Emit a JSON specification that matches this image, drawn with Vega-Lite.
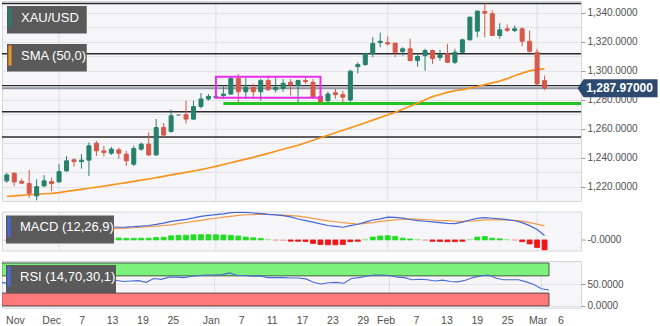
{
  "$schema": "https://vega.github.io/schema/vega-lite/v6.json",
  "padding": 0,
  "background": "#ffffff",
  "spacing": 8.5,
  "config": {
    "font": "Liberation Sans",
    "view": {"fill": "#f6f6f8", "stroke": "#d3d6dd", "strokeWidth": 1},
    "axis": {"labelFont": "Liberation Sans", "labelFontSize": 10, "labelColor": "#505050", "domain": false, "tickColor": "#9a9a9a", "tickSize": 4, "labelPadding": 2, "gridColor": "#e2e3e8", "gridWidth": 1, "labelOverlap": false},
    "legend": {"orient": "top-left", "offset": 5, "padding": 0, "fillColor": "#5a5a5a", "labelColor": "#ffffff", "labelFont": "Liberation Sans", "labelFontSize": 13, "symbolType": "M-0.85,-1L-0.85,1", "symbolSize": 400, "symbolStrokeWidth": 3, "labelOffset": -9, "rowPadding": 5}
  },
  "datasets": {
    "days": [
      {"d":"2018-11-22","i":-7,"o":1224.0,"h":1229.5,"l":1222.6,"c":1228.1,"sma":1213.2,"macd":2.3,"sig":2.8,"hist":-0.3,"rsi":55},
      {"d":"2018-11-23","i":-6,"o":1229.3,"h":1229.8,"l":1220.5,"c":1223.3,"sma":1213.6,"macd":2.3,"sig":2.7,"hist":-0.3,"rsi":52},
      {"d":"2018-11-26","i":-5,"o":1223.7,"h":1225.5,"l":1221.7,"c":1222.4,"sma":1214.0,"macd":2.2,"sig":2.6,"hist":-0.3,"rsi":50},
      {"d":"2018-11-27","i":-4,"o":1222.1,"h":1231.5,"l":1212.4,"c":1215.4,"sma":1214.4,"macd":2.2,"sig":2.4,"hist":-0.3,"rsi":45},
      {"d":"2018-11-28","i":-3,"o":1213.6,"h":1225.1,"l":1210.6,"c":1220.0,"sma":1214.7,"macd":2.2,"sig":2.3,"hist":-0.3,"rsi":50},
      {"d":"2018-11-29","i":-2,"o":1220.5,"h":1227.9,"l":1219.8,"c":1224.0,"sma":1215.1,"macd":2.2,"sig":2.2,"hist":-0.2,"rsi":53},
      {"d":"2018-11-30","i":-1,"o":1223.5,"h":1226.2,"l":1217.0,"c":1222.1,"sma":1215.4,"macd":2.3,"sig":2.0,"hist":-0.1,"rsi":52},
      {"d":"2018-12-03","i":0,"o":1223.3,"h":1235.5,"l":1222.6,"c":1230.4,"sma":1215.9,"macd":2.6,"sig":2.1,"hist":0.5,"rsi":57},
      {"d":"2018-12-04","i":1,"o":1230.9,"h":1241.2,"l":1230.2,"c":1237.8,"sma":1216.7,"macd":3.5,"sig":2.7,"hist":1.0,"rsi":62},
      {"d":"2018-12-05","i":2,"o":1238.5,"h":1239.4,"l":1233.8,"c":1237.3,"sma":1217.4,"macd":4.5,"sig":3.2,"hist":1.4,"rsi":61},
      {"d":"2018-12-06","i":3,"o":1237.3,"h":1242.4,"l":1232.5,"c":1238.3,"sma":1218.1,"macd":5.4,"sig":4.0,"hist":1.8,"rsi":61},
      {"d":"2018-12-07","i":4,"o":1238.3,"h":1250.5,"l":1227.4,"c":1248.2,"sma":1218.9,"macd":6.1,"sig":4.7,"hist":2.6,"rsi":66},
      {"d":"2018-12-10","i":5,"o":1250.0,"h":1251.6,"l":1241.2,"c":1244.7,"sma":1219.6,"macd":6.8,"sig":5.3,"hist":2.8,"rsi":62},
      {"d":"2018-12-11","i":6,"o":1244.7,"h":1248.2,"l":1240.8,"c":1243.5,"sma":1220.3,"macd":7.5,"sig":6.0,"hist":2.4,"rsi":61},
      {"d":"2018-12-12","i":7,"o":1243.1,"h":1247.5,"l":1241.9,"c":1245.9,"sma":1221.2,"macd":7.4,"sig":6.3,"hist":1.5,"rsi":62},
      {"d":"2018-12-13","i":8,"o":1245.4,"h":1247.0,"l":1239.4,"c":1243.1,"sma":1222.0,"macd":7.2,"sig":6.5,"hist":1.1,"rsi":60},
      {"d":"2018-12-14","i":9,"o":1242.4,"h":1244.7,"l":1234.3,"c":1237.8,"sma":1222.8,"macd":7.3,"sig":6.7,"hist":0.9,"rsi":57},
      {"d":"2018-12-17","i":10,"o":1235.5,"h":1248.2,"l":1234.3,"c":1246.3,"sma":1223.7,"macd":7.5,"sig":6.9,"hist":0.9,"rsi":58},
      {"d":"2018-12-18","i":11,"o":1245.9,"h":1250.5,"l":1244.7,"c":1249.3,"sma":1224.5,"macd":7.8,"sig":7.2,"hist":1.0,"rsi":59},
      {"d":"2018-12-19","i":12,"o":1249.3,"h":1257.4,"l":1241.2,"c":1241.9,"sma":1225.3,"macd":8.2,"sig":7.5,"hist":1.0,"rsi":55},
      {"d":"2018-12-20","i":13,"o":1241.9,"h":1266.6,"l":1241.2,"c":1260.8,"sma":1226.2,"macd":8.8,"sig":7.8,"hist":1.3,"rsi":64},
      {"d":"2018-12-21","i":14,"o":1260.8,"h":1263.9,"l":1253.9,"c":1255.6,"sma":1227.1,"macd":9.5,"sig":8.2,"hist":1.5,"rsi":62},
      {"d":"2018-12-24","i":15,"o":1258.1,"h":1273.1,"l":1257.2,"c":1268.9,"sma":1228.1,"macd":10.5,"sig":8.5,"hist":2.3,"rsi":67},
      {"d":"2018-12-25","i":16,"o":1269.4,"h":1269.9,"l":1268.9,"c":1269.4,"sma":1229.0,"macd":11.1,"sig":9.2,"hist":2.6,"rsi":67},
      {"d":"2018-12-26","i":17,"o":1269.6,"h":1279.3,"l":1263.6,"c":1266.6,"sma":1229.9,"macd":11.7,"sig":9.9,"hist":2.7,"rsi":66},
      {"d":"2018-12-27","i":18,"o":1266.6,"h":1279.3,"l":1266.2,"c":1275.2,"sma":1230.8,"macd":12.5,"sig":10.5,"hist":2.9,"rsi":69},
      {"d":"2018-12-28","i":19,"o":1275.4,"h":1284.6,"l":1274.0,"c":1280.5,"sma":1231.8,"macd":13.4,"sig":11.1,"hist":3.0,"rsi":71},
      {"d":"2018-12-31","i":20,"o":1280.5,"h":1283.9,"l":1279.3,"c":1282.3,"sma":1232.9,"macd":13.9,"sig":11.8,"hist":3.0,"rsi":72},
      {"d":"2019-01-01","i":21,"o":1281.4,"h":1283.5,"l":1280.7,"c":1282.1,"sma":1234.0,"macd":14.4,"sig":12.3,"hist":2.9,"rsi":72},
      {"d":"2019-01-02","i":22,"o":1282.8,"h":1289.2,"l":1280.5,"c":1283.9,"sma":1235.3,"macd":14.8,"sig":12.9,"hist":2.8,"rsi":73},
      {"d":"2019-01-03","i":23,"o":1283.9,"h":1295.9,"l":1283.5,"c":1294.7,"sma":1236.5,"macd":15.5,"sig":13.4,"hist":2.6,"rsi":77},
      {"d":"2019-01-04","i":24,"o":1294.7,"h":1297.8,"l":1278.1,"c":1285.5,"sma":1237.8,"macd":15.7,"sig":13.9,"hist":2.2,"rsi":71},
      {"d":"2019-01-07","i":25,"o":1285.5,"h":1295.4,"l":1280.5,"c":1288.5,"sma":1239.0,"macd":15.6,"sig":14.3,"hist":1.6,"rsi":71},
      {"d":"2019-01-08","i":26,"o":1288.5,"h":1291.1,"l":1280.5,"c":1285.5,"sma":1240.2,"macd":15.3,"sig":14.4,"hist":1.2,"rsi":69},
      {"d":"2019-01-09","i":27,"o":1285.5,"h":1294.5,"l":1279.3,"c":1293.2,"sma":1241.6,"macd":14.9,"sig":14.6,"hist":0.8,"rsi":70},
      {"d":"2019-01-10","i":28,"o":1293.2,"h":1296.6,"l":1286.2,"c":1286.9,"sma":1243.0,"macd":14.5,"sig":14.5,"hist":0.3,"rsi":66},
      {"d":"2019-01-11","i":29,"o":1286.9,"h":1295.4,"l":1285.0,"c":1288.5,"sma":1244.4,"macd":14.2,"sig":14.3,"hist":-0.2,"rsi":66},
      {"d":"2019-01-14","i":30,"o":1287.8,"h":1294.3,"l":1285.5,"c":1291.3,"sma":1245.8,"macd":13.8,"sig":14.1,"hist":-0.3,"rsi":66},
      {"d":"2019-01-15","i":31,"o":1292.0,"h":1294.3,"l":1282.8,"c":1290.2,"sma":1247.2,"macd":13.1,"sig":13.8,"hist":-0.7,"rsi":65},
      {"d":"2019-01-16","i":32,"o":1289.7,"h":1293.8,"l":1278.1,"c":1293.2,"sma":1248.6,"macd":11.9,"sig":13.5,"hist":-0.8,"rsi":65},
      {"d":"2019-01-17","i":33,"o":1293.2,"h":1295.4,"l":1290.9,"c":1292.5,"sma":1250.3,"macd":11.0,"sig":12.9,"hist":-0.9,"rsi":63},
      {"d":"2019-01-18","i":34,"o":1292.0,"h":1294.3,"l":1280.5,"c":1281.6,"sma":1252.0,"macd":10.1,"sig":12.2,"hist":-2.0,"rsi":55},
      {"d":"2019-01-21","i":35,"o":1282.3,"h":1283.0,"l":1278.1,"c":1278.6,"sma":1253.7,"macd":9.1,"sig":11.5,"hist":-2.6,"rsi":51},
      {"d":"2019-01-22","i":36,"o":1279.3,"h":1285.5,"l":1278.1,"c":1283.9,"sma":1255.5,"macd":8.2,"sig":10.8,"hist":-2.8,"rsi":54},
      {"d":"2019-01-23","i":37,"o":1284.8,"h":1287.6,"l":1280.7,"c":1283.5,"sma":1257.2,"macd":7.7,"sig":10.3,"hist":-2.8,"rsi":55},
      {"d":"2019-01-24","i":38,"o":1283.5,"h":1286.2,"l":1278.1,"c":1281.7,"sma":1258.9,"macd":7.2,"sig":9.8,"hist":-2.6,"rsi":53},
      {"d":"2019-01-25","i":39,"o":1279.8,"h":1300.8,"l":1278.6,"c":1299.6,"sma":1260.6,"macd":8.1,"sig":9.4,"hist":-1.0,"rsi":64},
      {"d":"2019-01-28","i":40,"o":1302.8,"h":1305.8,"l":1298.2,"c":1304.2,"sma":1262.4,"macd":8.9,"sig":9.0,"hist":-0.8,"rsi":66},
      {"d":"2019-01-29","i":41,"o":1304.2,"h":1312.5,"l":1303.5,"c":1311.8,"sma":1264.1,"macd":10.1,"sig":9.4,"hist":0.3,"rsi":69},
      {"d":"2019-01-30","i":42,"o":1311.8,"h":1323.1,"l":1309.3,"c":1318.8,"sma":1265.9,"macd":11.3,"sig":9.8,"hist":1.6,"rsi":72},
      {"d":"2019-01-31","i":43,"o":1319.4,"h":1326.2,"l":1316.2,"c":1320.3,"sma":1267.7,"macd":12.0,"sig":10.5,"hist":2.2,"rsi":72},
      {"d":"2019-02-01","i":44,"o":1319.4,"h":1323.6,"l":1317.4,"c":1318.5,"sma":1269.5,"macd":12.9,"sig":11.0,"hist":2.4,"rsi":71},
      {"d":"2019-02-04","i":45,"o":1319.0,"h":1319.4,"l":1309.3,"c":1312.7,"sma":1271.3,"macd":12.8,"sig":11.4,"hist":2.0,"rsi":67},
      {"d":"2019-02-05","i":46,"o":1313.2,"h":1316.2,"l":1310.4,"c":1315.1,"sma":1273.4,"macd":12.4,"sig":11.6,"hist":1.0,"rsi":66},
      {"d":"2019-02-06","i":47,"o":1315.1,"h":1322.0,"l":1306.5,"c":1307.0,"sma":1275.5,"macd":11.6,"sig":11.9,"hist":0.5,"rsi":61},
      {"d":"2019-02-07","i":48,"o":1307.0,"h":1311.1,"l":1302.8,"c":1309.8,"sma":1277.6,"macd":11.0,"sig":11.8,"hist":0.3,"rsi":62},
      {"d":"2019-02-08","i":49,"o":1310.4,"h":1315.1,"l":1300.1,"c":1313.9,"sma":1280.0,"macd":10.6,"sig":11.5,"hist":-0.2,"rsi":61},
      {"d":"2019-02-11","i":50,"o":1313.9,"h":1314.6,"l":1304.7,"c":1308.4,"sma":1282.1,"macd":10.2,"sig":11.3,"hist":-0.8,"rsi":58},
      {"d":"2019-02-12","i":51,"o":1309.1,"h":1314.4,"l":1307.0,"c":1311.1,"sma":1283.6,"macd":9.8,"sig":11.0,"hist":-0.9,"rsi":60},
      {"d":"2019-02-13","i":52,"o":1311.6,"h":1318.5,"l":1305.6,"c":1305.8,"sma":1285.0,"macd":9.4,"sig":10.9,"hist":-1.0,"rsi":57},
      {"d":"2019-02-14","i":53,"o":1305.8,"h":1315.1,"l":1304.7,"c":1312.7,"sma":1286.2,"macd":9.3,"sig":10.6,"hist":-1.0,"rsi":56},
      {"d":"2019-02-15","i":54,"o":1312.7,"h":1322.2,"l":1312.5,"c":1321.3,"sma":1287.0,"macd":10.1,"sig":10.5,"hist":-0.8,"rsi":60},
      {"d":"2019-02-18","i":55,"o":1321.3,"h":1337.4,"l":1321.0,"c":1336.9,"sma":1288.0,"macd":11.3,"sig":10.7,"hist":0.3,"rsi":66},
      {"d":"2019-02-19","i":56,"o":1327.3,"h":1341.6,"l":1323.1,"c":1341.1,"sma":1289.1,"macd":12.2,"sig":11.0,"hist":1.6,"rsi":70},
      {"d":"2019-02-20","i":57,"o":1340.9,"h":1346.4,"l":1323.1,"c":1339.7,"sma":1290.4,"macd":12.7,"sig":11.4,"hist":1.9,"rsi":72},
      {"d":"2019-02-21","i":58,"o":1339.3,"h":1341.6,"l":1324.0,"c":1324.3,"sma":1291.6,"macd":12.3,"sig":11.4,"hist":1.0,"rsi":65},
      {"d":"2019-02-22","i":59,"o":1324.3,"h":1332.8,"l":1322.0,"c":1328.2,"sma":1292.8,"macd":11.9,"sig":11.4,"hist":0.6,"rsi":61},
      {"d":"2019-02-25","i":60,"o":1328.9,"h":1331.9,"l":1326.6,"c":1327.9,"sma":1294.5,"macd":11.5,"sig":11.4,"hist":0.2,"rsi":61},
      {"d":"2019-02-26","i":61,"o":1327.7,"h":1331.2,"l":1326.6,"c":1328.9,"sma":1296.5,"macd":10.9,"sig":11.1,"hist":-0.1,"rsi":61},
      {"d":"2019-02-27","i":62,"o":1328.9,"h":1329.8,"l":1316.9,"c":1320.3,"sma":1298.3,"macd":9.8,"sig":10.7,"hist":-1.0,"rsi":56},
      {"d":"2019-02-28","i":63,"o":1320.3,"h":1327.7,"l":1312.5,"c":1313.4,"sma":1299.9,"macd":8.1,"sig":9.8,"hist":-2.3,"rsi":50},
      {"d":"2019-03-01","i":64,"o":1312.7,"h":1315.1,"l":1289.7,"c":1290.9,"sma":1300.9,"macd":5.9,"sig":9.0,"hist":-4.3,"rsi":40},
      {"d":"2019-03-04","i":65,"o":1293.2,"h":1296.6,"l":1286.7,"c":1287.97,"sma":1301.2,"macd":2.5,"sig":8.0,"hist":-5.7,"rsi":37}
    ],
    "levels": [{"price":1346.4},{"price":1311.7},{"price":1289.7},{"price":1271.7},{"price":1254.3}],
    "support": [{"price":1277.4,"from":22}],
    "box": [{"from":21,"to":35,"lo":1281.4,"hi":1295.9}],
    "months": [{"i":0},{"i":21},{"i":44},{"i":64}],
    "zones": [{"zone":"overbought","lo":70,"hi":100,"from":-7,"to":65},{"zone":"oversold","lo":0,"hi":30,"from":-7,"to":65}]
  },
  "vconcat": [
    {
      "width": 579,
      "height": 200,
      "layer": [
        {"data":{"name":"months"},"mark":{"type":"rule","color":"#dcdee4","strokeWidth":1},
         "encoding":{"x":{"field":"i","type":"quantitative","scale":{"domain":[-6.97,69.21],"nice":false,"zero":false},"axis":null}}},
        {"data":{"name":"levels"},"mark":{"type":"rule","color":"#2b2b2b","strokeWidth":1.4},
         "encoding":{"y":{"field":"price","type":"quantitative","title":null,"scale":{"domain":[1210.1,1348.1],"nice":false,"zero":false},
           "axis":{"orient":"right","values":[1220,1230,1240,1250,1260,1270,1280,1290,1300,1310,1320,1330,1340],"tickCount":100,"labelExpr":"datum.value % 20 == 0 ? format(datum.value, ',.4f') : ''","tickOpacity":{"condition":{"test":"datum.value % 20 == 0","value":1},"value":0},"grid":true,"labelOverlap":false,"title":null}}}},
        {"data":{"name":"days"},"transform":[{"filter":"datum.i == 65"}],"mark":{"type":"rule","color":"#8e96a7","strokeWidth":2},
         "encoding":{"y":{"field":"c","type":"quantitative","title":null,"scale":{"domain":[1210.1,1348.1],"nice":false,"zero":false}}}},
        {"data":{"name":"support"},"mark":{"type":"rule","color":"#22c322","strokeWidth":3,"clip":true},
         "encoding":{"x":{"field":"from","type":"quantitative","scale":{"domain":[-6.97,69.21],"nice":false,"zero":false},"axis":null},"x2":{"value":"width"},
           "y":{"field":"price","type":"quantitative","title":null,"scale":{"domain":[1210.1,1348.1],"nice":false,"zero":false}}}},
        {"data":{"name":"days"},"transform":[{"filter":"false"}],"mark":{"type":"line","strokeWidth":1.7},
         "encoding":{"x":{"field":"i","type":"quantitative","scale":{"domain":[-6.97,69.21],"nice":false,"zero":false},"axis":null},
           "y":{"field":"c","type":"quantitative","title":null,"scale":{"domain":[1210.1,1348.1],"nice":false,"zero":false}},
           "stroke":{"datum":"XAU/USD","type":"nominal","scale":{"domain":["XAU/USD","SMA (50,0)"],"range":["#26806c","#f7941d"]}}}},
        {"data":{"name":"days"},"mark":{"type":"line","strokeWidth":1.7,"clip":true},
         "encoding":{"x":{"field":"i","type":"quantitative","scale":{"domain":[-6.97,69.21],"nice":false,"zero":false},"axis":null},
           "y":{"field":"sma","type":"quantitative","title":null,"scale":{"domain":[1210.1,1348.1],"nice":false,"zero":false}},
           "stroke":{"datum":"SMA (50,0)","type":"nominal","scale":{"domain":["XAU/USD","SMA (50,0)"],"range":["#26806c","#f7941d"]},
             "legend":{"title":null,"fillColor":"transparent","symbolType":"M-0.85,-1L-0.85,1","symbolStrokeWidth":3,
               "encode":{"symbols":{"update":{"strokeWidth":{"value":3},"fill":{"value":"transparent"},"opacity":{"value":1}}},
                         "entries":{"update":{"fill":{"value":"#5a5a5a"},"width":{"signal":"datum.value == 'XAU/USD' ? 71 : 91"},"height":{"value":20}}}}}}}},
        {"data":{"name":"days"},"mark":{"type":"rule","strokeWidth":1,"clip":true},
         "encoding":{"x":{"field":"i","type":"quantitative","scale":{"domain":[-6.97,69.21],"nice":false,"zero":false},"axis":null},
           "y":{"field":"l","type":"quantitative","title":null,"scale":{"domain":[1210.1,1348.1],"nice":false,"zero":false}},
           "y2":{"field":"h"},
           "stroke":{"condition":[{"test":"datum.c == datum.o","value":"#8c8c8c"},{"test":"datum.c > datum.o","value":"#26806c"}],"value":"#d6584b"}}},
        {"data":{"name":"days"},"mark":{"type":"bar","size":4,"strokeWidth":1,"clip":true,"orient":"vertical"},
         "encoding":{"x":{"field":"i","type":"quantitative","scale":{"domain":[-6.97,69.21],"nice":false,"zero":false},"axis":null},
           "y":{"field":"o","type":"quantitative","title":null,"scale":{"domain":[1210.1,1348.1],"nice":false,"zero":false}},
           "y2":{"field":"c"},
           "fill":{"condition":[{"test":"datum.c == datum.o","value":"#8c8c8c"},{"test":"datum.c > datum.o","value":"#26806c"}],"value":"#d6584b"},
           "stroke":{"condition":[{"test":"datum.c == datum.o","value":"#8c8c8c"},{"test":"datum.c > datum.o","value":"#26806c"}],"value":"#d6584b"}}},
        {"data":{"name":"box"},"mark":{"type":"rect","fillOpacity":0,"fill":"#ffffff","stroke":"#ec2cec","strokeWidth":2},
         "encoding":{"x":{"field":"from","type":"quantitative","scale":{"domain":[-6.97,69.21],"nice":false,"zero":false},"axis":null},"x2":{"field":"to"},
           "y":{"field":"lo","type":"quantitative","title":null,"scale":{"domain":[1210.1,1348.1],"nice":false,"zero":false}},"y2":{"field":"hi"}}},
        {"data":{"name":"days"},"transform":[{"filter":"datum.i == 65"}],
         "mark":{"type":"point","shape":"M-1,0L-0.85,-0.225H1V0.225H-0.85Z","size":6400,"filled":true,"color":"#2c4a6f","opacity":1,"strokeWidth":0,"xOffset":73},
         "encoding":{"x":{"field":"i","type":"quantitative","scale":{"domain":[-6.97,69.21],"nice":false,"zero":false},"axis":null},
           "y":{"field":"c","type":"quantitative","title":null,"scale":{"domain":[1210.1,1348.1],"nice":false,"zero":false}}}},
        {"data":{"name":"days"},"transform":[{"filter":"datum.i == 65"}],
         "mark":{"type":"text","dx":75,"align":"center","baseline":"middle","fontWeight":"bold","fontSize":12,"font":"Liberation Sans","color":"#ffffff"},
         "encoding":{"x":{"field":"i","type":"quantitative","scale":{"domain":[-6.97,69.21],"nice":false,"zero":false},"axis":null},
           "y":{"field":"c","type":"quantitative","title":null,"scale":{"domain":[1210.1,1348.1],"nice":false,"zero":false}},
           "text":{"field":"c","type":"quantitative","format":",.5f"}}}
      ]
    },
    {
      "width": 579,
      "height": 39,
      "layer": [
        {"data":{"name":"months"},"mark":{"type":"rule","color":"#dcdee4","strokeWidth":1},
         "encoding":{"x":{"field":"i","type":"quantitative","scale":{"domain":[-6.97,69.21],"nice":false,"zero":false},"axis":null}}},
        {"data":{"name":"days"},"mark":{"type":"bar","size":5,"strokeWidth":0.8,"clip":true,"orient":"vertical"},
         "encoding":{"x":{"field":"i","type":"quantitative","scale":{"domain":[-6.97,69.21],"nice":false,"zero":false},"axis":null},
           "y":{"field":"hist","type":"quantitative","title":null,"scale":{"domain":[-6.02,16.14],"nice":false,"zero":false},
             "axis":{"orient":"right","values":[0],"labelExpr":"'-0.0000'","grid":false,"title":null}},
           "y2":{"datum":0},
           "fill":{"condition":[{"test":"datum.hist >= 0.4","value":"#22dd22"},{"test":"datum.hist >= 0","value":"#9be69b"},{"test":"datum.hist > -0.4","value":"#f4a5a5"}],"value":"#ee1616"},
           "stroke":{"condition":[{"test":"datum.hist >= 0.4","value":"#22dd22"},{"test":"datum.hist >= 0","value":"#9be69b"},{"test":"datum.hist > -0.4","value":"#f4a5a5"}],"value":"#ee1616"}}},
        {"data":{"name":"days"},"mark":{"type":"line","strokeWidth":1.2,"color":"#f29a4a","clip":true},
         "encoding":{"x":{"field":"i","type":"quantitative","scale":{"domain":[-6.97,69.21],"nice":false,"zero":false},"axis":null},
           "y":{"field":"sig","type":"quantitative","title":null,"scale":{"domain":[-6.02,16.14],"nice":false,"zero":false}}}},
        {"data":{"name":"days"},"mark":{"type":"line","strokeWidth":1.2,"clip":true},
         "encoding":{"x":{"field":"i","type":"quantitative","scale":{"domain":[-6.97,69.21],"nice":false,"zero":false},"axis":null},
           "y":{"field":"macd","type":"quantitative","title":null,"scale":{"domain":[-6.02,16.14],"nice":false,"zero":false}},
           "stroke":{"datum":"MACD (12,26,9)","type":"nominal","scale":{"range":["#4466d8"]},
             "legend":{"title":null,"offset":4,"symbolType":"M-0.85,-1L-0.85,1","symbolStrokeWidth":3,
               "encode":{"symbols":{"update":{"stroke":{"value":"#1f3fd8"},"strokeWidth":{"value":3},"fill":{"value":"transparent"},"opacity":{"value":1}}}}}}}}
      ]
    },
    {
      "width": 579,
      "height": 46.7,
      "layer": [
        {"data":{"name":"months"},"mark":{"type":"rule","color":"#dcdee4","strokeWidth":1},
         "encoding":{"x":{"field":"i","type":"quantitative","title":null,"scale":{"domain":[-6.97,69.21],"nice":false,"zero":false},
           "axis":{"orient":"bottom","values":[-6.5,-0.5,3.5,7.5,11.5,15.5,20.5,24.5,28.5,32.5,36.5,40.5,43.5,47.5,51.5,55.5,59.5,63.5,66.5],"tickCount":100,
             "labelExpr":"['Nov','Dec','7','13','19','25','Jan','7','11','17','23','29','Feb','7','13','19','25','Mar','6'][indexof([-6.5,-0.5,3.5,7.5,11.5,15.5,20.5,24.5,28.5,32.5,36.5,40.5,43.5,47.5,51.5,55.5,59.5,63.5,66.5], datum.value)]",
             "ticks":false,"domain":false,"grid":false,"labelPadding":8,"labelFontSize":10.5,"labelFlush":5,"labelOverlap":false,"title":null}}}},
        {"data":{"name":"zones"},"mark":{"type":"rect","stroke":"#2a2a2a","strokeWidth":1,"strokeOpacity":0.75,"clip":true},
         "encoding":{"x":{"field":"from","type":"quantitative","title":null,"scale":{"domain":[-6.97,69.21],"nice":false,"zero":false}},"x2":{"field":"to"},
           "y":{"field":"lo","type":"quantitative","title":null,"scale":{"domain":[-4,104.6],"nice":false,"zero":false},
             "axis":{"orient":"right","values":[0,50],"format":".4f","grid":true,"labelOverlap":false,"title":null}},
           "y2":{"field":"hi"},
           "fill":{"field":"zone","type":"nominal","scale":{"domain":["overbought","oversold"],"range":["#7cf27c","#ff7a7a"]},"legend":null}}},
        {"data":{"name":"days"},"mark":{"type":"line","strokeWidth":1.1,"clip":true},
         "encoding":{"x":{"field":"i","type":"quantitative","title":null,"scale":{"domain":[-6.97,69.21],"nice":false,"zero":false}},
           "y":{"field":"rsi","type":"quantitative","title":null,"scale":{"domain":[-4,104.6],"nice":false,"zero":false}},
           "stroke":{"datum":"RSI (14,70,30,1)","type":"nominal","scale":{"range":["#4a6ad8"]},
             "legend":{"title":null,"offset":4,"symbolType":"M-0.85,-1L-0.85,1","symbolStrokeWidth":3,
               "encode":{"symbols":{"update":{"stroke":{"value":"#1ec81e"},"strokeWidth":{"value":3},"fill":{"value":"transparent"},"opacity":{"value":1}}}}}}}}
      ]
    }
  ],
  "resolve": {"scale": {"x": "independent", "y": "independent", "stroke": "independent", "fill": "independent"}, "legend": {"stroke": "independent", "fill": "independent"}}
}
